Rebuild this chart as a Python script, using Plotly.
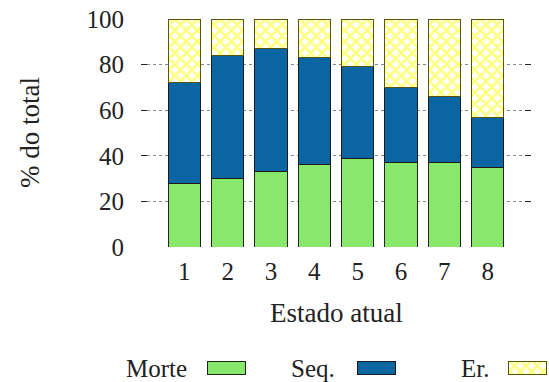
import plotly.graph_objects as go

# ---- data ----
categories = [1, 2, 3, 4, 5, 6, 7, 8]
morte = [28, 30, 33, 36, 39, 37, 37, 35]
seq = [44, 54, 54, 47, 40, 33, 29, 22]
er = [28, 16, 13, 17, 21, 30, 34, 43]
series_names = ["Morte", "Seq.", "Er."]
y_ticks = [0, 20, 40, 60, 80, 100]

# ---- styles ----
FONT = "Liberation Serif"
FS = 25
GREEN = "#88E86B"
BLUE = "#0A66A2"
YELLOW = "#FFFF00"
W, H = 549, 382
ML, MR, MT, MB = 0, 0, 19, 0
plot_w = W - ML - MR
plot_h = H - MT - MB


def fx(px):  # window px -> paper fraction (x)
    return (px - ML) / plot_w


def fy(py):  # window px -> paper fraction (y)
    return (H - MB - py) / plot_h


x_left_px, x_right_px = 141, 531
y_bottom_px = 247
x_dom = [fx(x_left_px), fx(x_right_px)]
y_dom = [fy(y_bottom_px), 1]

fig = go.Figure()

styles = [
    dict(color=GREEN, line=dict(color="#222", width=1)),
    dict(color=BLUE, line=dict(color="#1a1a1a", width=1)),
    dict(color="white", line=dict(color="#55550a", width=1),
         pattern=dict(shape="x", fgcolor=YELLOW, bgcolor="white", size=8, solidity=0.55)),
]

for name, vals, st in zip(series_names, [morte, seq, er], styles):
    fig.add_trace(go.Bar(x=categories, y=vals, name=name, width=0.75,
                         marker=st, xaxis="x", yaxis="y", showlegend=False))

# custom legend (label then key), on a helper axis whose units are window px
leg_label_right = [189, 337, 491]
leg_key_left = [207, 357, 508]
key_w, key_h, key_mid = 38, 13, 368
for name, st, lx, kx in zip(series_names, styles, leg_label_right, leg_key_left):
    fig.add_trace(go.Bar(x=[kx + key_w / 2], y=[key_h], base=[key_mid - key_h / 2],
                         width=key_w, marker=st, xaxis="x2", yaxis="y2",
                         showlegend=False, hoverinfo="skip"))
    fig.add_annotation(x=lx, y=key_mid, xref="x2", yref="y2", text=name,
                       showarrow=False, xanchor="right", yanchor="middle",
                       font=dict(family=FONT, size=FS, color="#222"))

fig.update_layout(
    width=W, height=H,
    margin=dict(l=ML, r=MR, t=MT, b=MB, autoexpand=False),
    paper_bgcolor="white", plot_bgcolor="white",
    barmode="stack", showlegend=False,
    font=dict(family=FONT, size=FS, color="#222"),
    xaxis=dict(domain=x_dom, range=[0, 9], tickvals=categories,
               ticktext=[str(c) for c in categories], showgrid=False,
               zeroline=False, showline=False, ticks="", anchor="y",
               ticklabelstandoff=7, tickfont=dict(size=FS),
               ticklabeloverflow="allow"),
    yaxis=dict(domain=y_dom, range=[0, 100], tickvals=y_ticks,
               showgrid=True, gridcolor="#888", griddash="dot", gridwidth=1,
               zeroline=False, showline=False, ticks="inside", ticklen=6,
               tickcolor="#222", mirror="ticks", anchor="x",
               ticklabelstandoff=16, tickfont=dict(size=FS),
               ticklabeloverflow="allow"),
    # helper axis in window-pixel units (y grows upward from window bottom)
    xaxis2=dict(domain=[0, 1], range=[ML, W - MR], visible=False,
                anchor="y2", fixedrange=True),
    yaxis2=dict(domain=[0, y_dom[0]], range=[H - MB, y_bottom_px],
                visible=False, anchor="x2", fixedrange=True),
)

# axis titles
fig.add_annotation(x=fx(336), y=fy(313), xref="paper", yref="paper",
                   text="Estado atual", showarrow=False,
                   xanchor="center", yanchor="middle",
                   font=dict(family=FONT, size=FS + 2, color="#222"))
fig.add_annotation(x=fx(30), y=fy(133), xref="paper", yref="paper",
                   text="% do total", showarrow=False, textangle=-90,
                   xanchor="center", yanchor="middle",
                   font=dict(family=FONT, size=FS + 2, color="#222"))

fig.write_html(
    "out.html",
    config={"displayModeBar": False},
    post_script="document.body.style.margin='0';document.body.style.overflow='hidden';",
)
